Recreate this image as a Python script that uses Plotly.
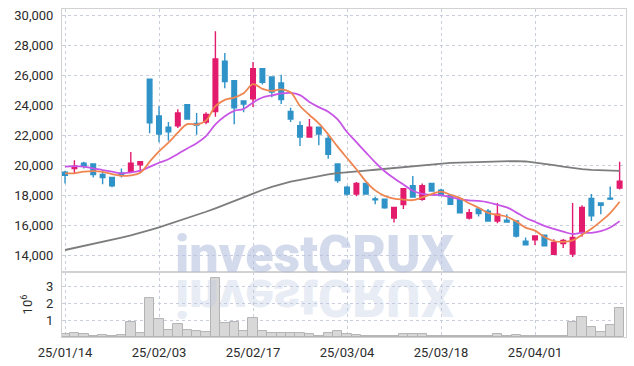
import plotly.graph_objects as go

dates = ["25/01/14","25/01/15","25/01/16","25/01/17","25/01/20","25/01/21","25/01/22","25/01/23","25/01/24","25/01/31",
         "25/02/03","25/02/04","25/02/05","25/02/06","25/02/07","25/02/10","25/02/11","25/02/12","25/02/13","25/02/14",
         "25/02/17","25/02/18","25/02/19","25/02/20","25/02/21","25/02/24","25/02/25","25/02/26","25/02/27","25/02/28",
         "25/03/04","25/03/05","25/03/06","25/03/07","25/03/10","25/03/11","25/03/12","25/03/13","25/03/14","25/03/17",
         "25/03/18","25/03/19","25/03/20","25/03/21","25/03/24","25/03/25","25/03/26","25/03/27","25/03/28","25/03/31",
         "25/04/01","25/04/02","25/04/03","25/04/04","25/04/07","25/04/08","25/04/09","25/04/10","25/04/11","25/04/14"]

opens = [19550,19800,20150,20100,19400,19200,19500,19600,20050,25750,
         23300,22550,22650,24050,22800,22900,23600,26950,25650,24300,
         24450,26450,25900,25500,23600,22650,21900,22550,21800,20100,
         18550,18100,18800,17780,17750,16500,17400,18650,17750,18800,
         18350,18000,17750,16500,17100,16950,16300,16350,16300,14950,
         15050,15350,14080,14800,14100,15550,17800,17500,17820,18500]
highs = [19650,20350,20250,20100,19600,19250,19800,20900,20300,25750,
         23950,22900,23750,24050,23500,23550,28950,27500,25700,24350,
         26900,26500,25900,26050,23850,22950,23100,22600,22050,20150,
         18650,18900,18800,17920,17750,17250,18500,19300,18800,18800,
         18450,18100,17800,17100,17150,17100,17500,16750,16300,15200,
         15300,15400,15080,15100,17500,17350,18100,17500,18600,20250]
lows = [18800,19500,19800,19200,18750,18550,19200,19500,19550,22150,
        21550,21650,22500,23050,22050,22750,23250,25150,22750,23550,
        23900,25400,24550,24100,22900,21300,21900,21350,20450,18850,
        18000,17950,18100,17420,17120,16200,17100,17900,17650,18250,
        17950,17400,16830,16400,16600,16300,16150,16230,15200,14700,
        14700,14650,14080,14500,13900,15250,16300,16750,17700,18400]
closes = [19350,19950,19950,19400,19200,18650,19350,20150,20250,22850,
          22100,22250,23500,23100,22700,23400,27100,25600,23850,24100,
          26450,25550,24900,24400,23100,21900,22550,22100,20750,19000,
          18100,18800,18100,17720,17180,17200,18450,17900,18650,18300,
          18000,17420,16850,16850,16800,16300,16750,16230,15300,14720,
          15300,14650,14880,15000,15200,17200,16650,17350,17770,18950]

volumes = [160000,260000,160000,80000,140000,80000,140000,860000,260000,2300000,
           1040000,440000,740000,440000,380000,320000,3500000,800000,880000,340000,
           1100000,380000,260000,260000,260000,260000,160000,40000,260000,380000,
           160000,100000,80000,80000,80000,80000,200000,160000,160000,80000,
           40000,40000,40000,40000,40000,40000,160000,40000,100000,40000,
           40000,40000,40000,40000,880000,1160000,580000,280000,700000,1720000]

ma5 = [19480,19480,19590,19630,19570,19430,19310,19350,19520,20250,
       20940,21520,22190,22760,22730,22990,23960,24380,24530,24810,
       25420,25110,24970,25080,24880,23970,23370,22810,22080,21260,
       20500,19750,18950,18344,17980,17800,17730,17690,17876,18100,
       18260,18054,17844,17484,17184,16844,16710,16586,16276,15860,
       15660,15240,14970,14910,15006,15386,15786,16280,16834,17584]
ma10 = [19920,19967,19933,19810,19700,19590,19480,19547,19653,19910,
        20185,20415,20770,21140,21490,21965,22740,23285,23645,23770,
        24205,24535,24675,24805,24845,24695,24240,23890,23580,23070,
        22235,21560,20880,20212,19620,19150,18740,18320,18110,18040,
        18030,17892,17767,17680,17642,17552,17382,17215,16880,16522,
        16252,15975,15778,15593,15433,15523,15513,15625,15872,16295]
ma_long = [14370,14500,14640,14780,14920,15060,15200,15350,15550,15700,
           15880,16080,16290,16500,16700,16920,17150,17400,17650,17900,
           18150,18370,18580,18770,18920,19050,19180,19300,19410,19500,
           19570,19620,19660,19720,19780,19850,19920,19990,20050,20100,
           20150,20180,20200,20220,20240,20260,20280,20300,20300,20270,
           20200,20120,20030,19930,19830,19760,19710,19680,19660,19650]

price_ticks = [14000,16000,18000,20000,22000,24000,26000,28000,30000]
vol_ticks = [1000000,2000000,3000000]
vol_tick_labels = ["1","2","3"]
date_ticks = dates[::10]

PINK = "#e31b6d"
BLUE = "#2f93c8"
GRID = "#c9cedd"
LINE = "#d2d2d2"
FONT = dict(family="Roboto, sans-serif", size=13, color="#2b2b2b")

fig = go.Figure()
fig.add_trace(go.Bar(x=dates, y=volumes, xaxis="x", yaxis="y",
                     marker=dict(color="#d8d8d8", line=dict(color="#b3b3b3", width=1)),
                     showlegend=False, hoverinfo="skip"))
fig.add_trace(go.Candlestick(x=dates, open=opens, high=highs, low=lows, close=closes,
                             xaxis="x2", yaxis="y2", whiskerwidth=0,
                             increasing=dict(line=dict(color=PINK, width=1.4), fillcolor=PINK),
                             decreasing=dict(line=dict(color=BLUE, width=1.4), fillcolor=BLUE),
                             showlegend=False))
fig.add_trace(go.Scatter(x=dates, y=ma_long, xaxis="x2", yaxis="y2", mode="lines",
                         line=dict(color="#7d7d7d", width=1.8), showlegend=False))
fig.add_trace(go.Scatter(x=dates, y=ma10, xaxis="x2", yaxis="y2", mode="lines",
                         line=dict(color="#c855e6", width=1.8, shape="spline"), showlegend=False))
fig.add_trace(go.Scatter(x=dates, y=ma5, xaxis="x2", yaxis="y2", mode="lines",
                         line=dict(color="#ef8550", width=1.8, shape="spline"), showlegend=False))

xcommon = dict(type="category", range=[-0.32, 59.68], tickmode="array", tickvals=date_ticks,
               ticktext=date_ticks, showgrid=True, gridcolor=GRID, griddash="dot", gridwidth=1,
               showline=True, linecolor=LINE, linewidth=1, mirror=True, zeroline=False,
               automargin=False)

WM_Y = 0.253
fig.update_layout(
    width=634, height=366,
    margin=dict(l=62, r=8, t=9, b=29),
    paper_bgcolor="white", plot_bgcolor="white",
    bargap=0, showlegend=False, font=FONT,
    xaxis=dict(**xcommon, anchor="y", domain=[0, 1], ticks="outside", ticklen=3,
               tickcolor="rgba(0,0,0,0)", tickfont=dict(size=13)),
    xaxis2=dict(**xcommon, anchor="y2", matches="x", showticklabels=False,
                rangeslider=dict(visible=False)),
    yaxis=dict(domain=[0, 0.198], range=[0, 3860000], tickmode="array", tickvals=vol_ticks,
               ticktext=vol_tick_labels, showgrid=True, gridcolor=GRID, griddash="dot",
               showline=True, linecolor=LINE, mirror=True, zeroline=False, automargin=False,
               ticks="outside", ticklen=5, tickcolor="rgba(0,0,0,0)",
               title=dict(text="10<sup>6</sup>", standoff=10, font=dict(size=13))),
    yaxis2=dict(domain=[0.198, 1], range=[12900, 30433], tickmode="array", tickvals=price_ticks,
                tickformat=",d", showgrid=True, gridcolor=GRID, griddash="dot", automargin=False,
                showline=True, linecolor=LINE, mirror=True, zeroline=False,
                ticks="outside", ticklen=5, tickcolor="rgba(0,0,0,0)"),
    annotations=[
        dict(text="investCRUX", xref="paper", yref="paper", x=0.4477, y=WM_Y,
             xanchor="center", yanchor="middle", showarrow=False,
             font=dict(family="Roboto", size=52, weight=900, color="rgba(175,188,218,0.55)")),
        dict(text="investCRUX", xref="paper", yref="paper", x=0.4477, y=WM_Y - 43 / 328,
             xanchor="center", yanchor="middle", showarrow=False,
             font=dict(family="Roboto", size=52, weight=900, color="rgba(190,200,225,0.35)")),
    ],
)

post = """
document.documentElement.style.margin = '0';
document.body.style.margin = '0';
document.body.style.overflow = 'hidden';
var gd = document.getElementById('{plot_id}');
var a = gd.querySelector('.annotation[data-index="1"] text');
if (a) { a.style.transformBox = 'fill-box'; a.style.transformOrigin = 'center'; a.style.transform = 'scaleY(-1)'; }
"""
fig.write_html("out.html", post_script=post, config={"displayModeBar": False})
